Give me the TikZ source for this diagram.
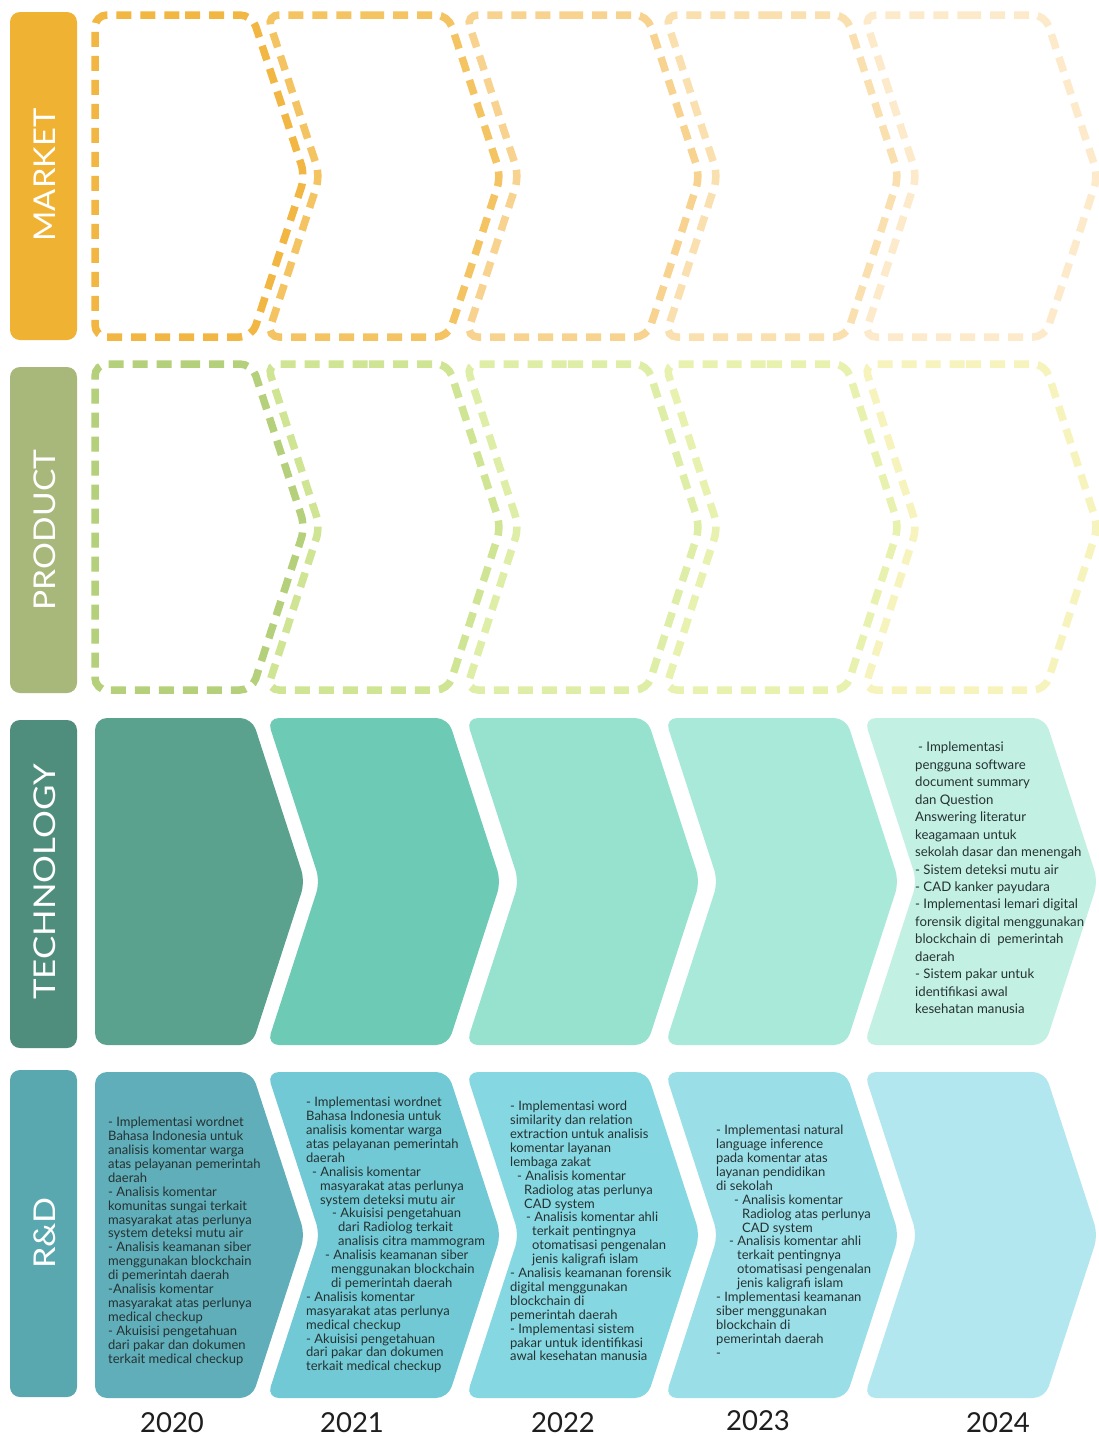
\documentclass[tikz,border=0pt]{standalone}
\usepackage{fontspec}
\setmainfont{Lato}
\definecolor{mkA}{HTML}{F0B232}
\definecolor{mk1}{HTML}{F2B642}
\definecolor{mk2}{HTML}{F5C462}
\definecolor{mk3}{HTML}{F8D38F}
\definecolor{mk4}{HTML}{FADFAF}
\definecolor{mk5}{HTML}{FCEACB}
\definecolor{prA}{HTML}{A8B87A}
\definecolor{pr1}{HTML}{B5D07A}
\definecolor{pr2}{HTML}{CFE594}
\definecolor{pr3}{HTML}{DFEEA6}
\definecolor{pr4}{HTML}{E8F2AE}
\definecolor{pr5}{HTML}{F6F4BC}
\definecolor{teA}{HTML}{4F8E7C}
\definecolor{te1}{HTML}{5AA28D}
\definecolor{te2}{HTML}{6DCAB4}
\definecolor{te3}{HTML}{96E2CF}
\definecolor{te4}{HTML}{A9E9D9}
\definecolor{te5}{HTML}{C2F0E3}
\definecolor{rdA}{HTML}{5AA8AF}
\definecolor{rd1}{HTML}{5FAEB9}
\definecolor{rd2}{HTML}{70C9D4}
\definecolor{rd3}{HTML}{85D7E1}
\definecolor{rd4}{HTML}{9ADFE8}
\definecolor{rd5}{HTML}{B3E7EF}
\definecolor{txt}{HTML}{263232}
\definecolor{yr}{HTML}{1E1E1E}
\newcommand{\firstchev}[2]{(173,#1) -- (252,#1) -- (305,{(#1+#2)/2}) -- (252,#2) -- (95,#2) -- (95,#1) -- cycle}
\newcommand{\nextchev}[3]{({#1+90},#2) -- ({#1+181},#2) -- ({#1+234},{(#2+#3)/2}) -- ({#1+181},#3) -- (#1,#3) -- ({#1+53},{(#2+#3)/2}) -- (#1,#2) -- cycle}
\begin{document}
\begin{tikzpicture}[x=1pt,y=-1pt,
  rowlabel/.style={fill=#1, rounded corners=10pt},
  rowtext/.style={text=white, rotate=90, font=\fontsize{30}{32}\selectfont},
  dashchev/.style={draw=#1, line width=7.5pt, dash pattern=on 15pt off 9pt, rounded corners=12pt},
  fillchev/.style={fill=#1, rounded corners=12pt},
  celltext/.style={anchor=north west, align=left, inner sep=0pt, text=txt, font=\fontsize{13}{13.9}\selectfont},
  bigtext/.style={anchor=north west, align=left, inner sep=0pt, text=txt, font=\fontsize{13.2}{17.45}\selectfont},
  year/.style={text=yr, font=\fontsize{27.5}{30}\selectfont}]
\useasboundingbox (0,0) rectangle (1098,1438);
\fill[white] (0,0) rectangle (1098,1438);

% row labels
\path[rowlabel=mkA] (10,12) rectangle (77,340);
\path[rowlabel=prA] (10,367) rectangle (77,693);
\path[rowlabel=teA] (10,720) rectangle (77,1048);
\path[rowlabel=rdA] (10,1070) rectangle (77,1397);
\node[rowtext] (lmarket) at (45,175) {\scalebox{1.09}[1]{MARKET}};
\node[rowtext] (lproduct) at (45,530) {\scalebox{1.12}[1]{PRODUCT}};
\node[rowtext] (ltech) at (45,882) {\scalebox{1.16}[1]{TECHNOLOGY}};
\node[rowtext] (lrd) at (45,1233) {\scalebox{1.14}[1]{R\&D}};

% market (dashed)
\draw[dashchev=mk5] \nextchev{864}{15}{337};
\draw[dashchev=mk4] \nextchev{665}{15}{337};
\draw[dashchev=mk3] \nextchev{466}{15}{337};
\draw[dashchev=mk2] \nextchev{267}{15}{337};
\draw[dashchev=mk1] \firstchev{15}{337};

% product (dashed)
\draw[dashchev=pr5] \nextchev{864}{364}{690};
\draw[dashchev=pr4] \nextchev{665}{364}{690};
\draw[dashchev=pr3] \nextchev{466}{364}{690};
\draw[dashchev=pr2] \nextchev{267}{364}{690};
\draw[dashchev=pr1] \firstchev{364}{690};

% technology (filled)
\path[fillchev=te1] \firstchev{718}{1045};
\path[fillchev=te2] \nextchev{267}{718}{1045};
\path[fillchev=te3] \nextchev{466}{718}{1045};
\path[fillchev=te4] \nextchev{665}{718}{1045};
\path[fillchev=te5] \nextchev{864}{718}{1045};

% R&D (filled)
\path[fillchev=rd1] \firstchev{1072}{1398};
\path[fillchev=rd2] \nextchev{267}{1072}{1398};
\path[fillchev=rd3] \nextchev{466}{1072}{1398};
\path[fillchev=rd4] \nextchev{665}{1072}{1398};
\path[fillchev=rd5] \nextchev{864}{1072}{1398};

% technology 2024 text
\node[bigtext] (t2024) at (915,742) {\hspace*{3pt}- Implementasi\\
pengguna software\\
document summary\\
dan Question\\
Answering literatur\\
keagamaan untuk\\
sekolah dasar dan menengah\\
- Sistem deteksi mutu air\\
- CAD kanker payudara\\
- Implementasi lemari digital\\
forensik digital menggunakan\\
blockchain di\ \ pemerintah\\
daerah\\
- Sistem pakar untuk\\
identifikasi awal\\
kesehatan manusia};

% R&D texts
\node[celltext] (r2020) at (108,1117) {- Implementasi wordnet\\
Bahasa Indonesia untuk\\
analisis komentar warga\\
atas pelayanan pemerintah\\
daerah\\
- Analisis komentar\\
komunitas sungai terkait\\
masyarakat atas perlunya\\
system deteksi mutu air\\
- Analisis keamanan siber\\
menggunakan blockchain\\
di pemerintah daerah\\
-Analisis komentar\\
masyarakat atas perlunya\\
medical checkup\\
- Akuisisi pengetahuan\\
dari pakar dan dokumen\\
terkait medical checkup};

\node[celltext] (r2021) at (306,1097) {- Implementasi wordnet\\
Bahasa Indonesia untuk\\
analisis komentar warga\\
atas pelayanan pemerintah\\
daerah\\
\hspace*{6pt}- Analisis komentar\\
\hspace*{14pt}masyarakat atas perlunya\\
\hspace*{14pt}system deteksi mutu air\\
\hspace*{26pt}- Akuisisi pengetahuan\\
\hspace*{32pt}dari Radiolog terkait\\
\hspace*{32pt}analisis citra mammogram\\
\hspace*{19pt}- Analisis keamanan siber\\
\hspace*{25pt}menggunakan blockchain\\
\hspace*{25pt}di pemerintah daerah\\
- Analisis komentar\\
masyarakat atas perlunya\\
medical checkup\\
- Akuisisi pengetahuan\\
dari pakar dan dokumen\\
terkait medical checkup};

\node[celltext] (r2022) at (510,1101) {- Implementasi word\\
similarity dan relation\\
extraction untuk analisis\\
komentar layanan\\
lembaga zakat\\
\hspace*{7pt}- Analisis komentar\\
\hspace*{14pt}Radiolog atas perlunya\\
\hspace*{14pt}CAD system\\
\hspace*{16pt}- Analisis komentar ahli\\
\hspace*{22pt}terkait pentingnya\\
\hspace*{22pt}otomatisasi pengenalan\\
\hspace*{22pt}jenis kaligrafi islam\\
- Analisis keamanan forensik\\
digital menggunakan\\
blockchain di\\
pemerintah daerah\\
- Implementasi sistem\\
pakar untuk identifikasi\\
awal kesehatan manusia};

\node[celltext] (r2023) at (716,1125) {- Implementasi natural\\
language inference\\
pada komentar atas\\
layanan pendidikan\\
di sekolah\\
\hspace*{18pt}- Analisis komentar\\
\hspace*{26pt}Radiolog atas perlunya\\
\hspace*{26pt}CAD system\\
\hspace*{13pt}- Analisis komentar ahli\\
\hspace*{21pt}terkait pentingnya\\
\hspace*{21pt}otomatisasi pengenalan\\
\hspace*{21pt}jenis kaligrafi islam\\
- Implementasi keamanan\\
siber menggunakan\\
blockchain di\\
pemerintah daerah\\
-};

% years
\node[year] (y2020) at (172,1423) {2020};
\node[year] (y2021) at (352,1423) {2021};
\node[year] (y2022) at (563,1423) {2022};
\node[year] (y2023) at (758,1421) {2023};
\node[year] (y2024) at (998,1423) {2024};
\end{tikzpicture}
\end{document}
